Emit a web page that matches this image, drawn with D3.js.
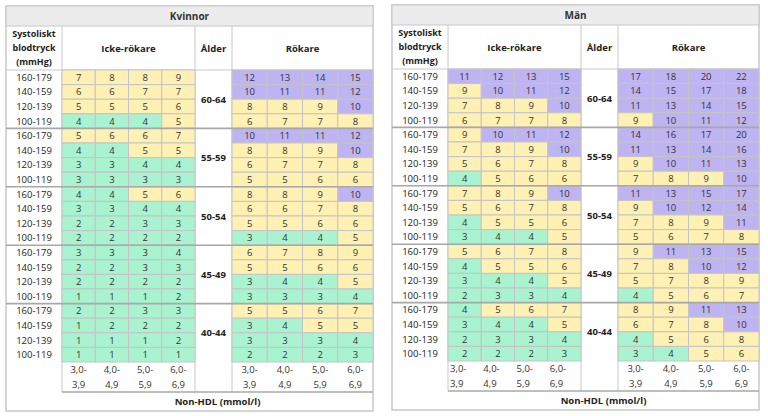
<!DOCTYPE html>
<html><head><meta charset="utf-8">
<script src="https://cdn.jsdelivr.net/npm/d3@7"></script>
<style>body{margin:0;background:#fff}text{font-family:"Open Sans","Liberation Sans",sans-serif}</style>
</head><body><svg id="c" width="768" height="416"></svg>
<script>
const ages = ["60-64","55-59","50-54","45-49","40-44"];
const bpRows = ["160-179","140-159","120-139","100-119"];
const nonHdlTop = ["3,0-","4,0-","5,0-","6,0-"];
const nonHdlBot = ["3,9","4,9","5,9","6,9"];
const panelTitles = ["Kvinnor","Män"];
const womenNonSmoker = [
 [[7,8,8,9],[6,6,7,7],[5,5,5,6],[4,4,4,5]],
 [[5,6,6,7],[4,4,5,5],[3,3,4,4],[3,3,3,3]],
 [[4,4,5,6],[3,3,4,4],[2,2,3,3],[2,2,2,2]],
 [[3,3,3,4],[2,2,3,3],[2,2,2,2],[1,1,1,2]],
 [[2,2,3,3],[1,2,2,2],[1,1,1,2],[1,1,1,1]]];
const womenSmoker = [
 [[12,13,14,15],[10,11,11,12],[8,8,9,10],[6,7,7,8]],
 [[10,11,11,12],[8,8,9,10],[6,7,7,8],[5,5,6,6]],
 [[8,8,9,10],[6,6,7,8],[5,5,6,6],[3,4,4,5]],
 [[6,7,8,9],[5,5,6,6],[3,4,4,5],[3,3,3,4]],
 [[5,5,6,7],[3,4,5,5],[3,3,3,4],[2,2,2,3]]];
const menNonSmoker = [
 [[11,12,13,15],[9,10,11,12],[7,8,9,10],[6,7,7,8]],
 [[9,10,11,12],[7,8,9,10],[5,6,7,8],[4,5,6,6]],
 [[7,8,9,10],[5,6,7,8],[4,5,5,6],[3,4,4,5]],
 [[5,6,7,8],[4,5,5,6],[3,4,4,5],[2,3,3,4]],
 [[4,5,6,7],[3,4,4,5],[2,3,3,4],[2,2,2,3]]];
const menSmoker = [
 [[17,18,20,22],[14,15,17,18],[11,13,14,15],[9,10,11,12]],
 [[14,16,17,20],[11,13,14,16],[9,10,11,13],[7,8,9,10]],
 [[11,13,15,17],[9,10,12,14],[7,8,9,11],[5,6,7,8]],
 [[9,11,13,15],[7,8,10,12],[5,7,8,9],[4,5,6,7]],
 [[8,9,11,13],[6,7,8,10],[4,5,6,8],[3,4,5,6]]];

const color = d3.scaleThreshold().domain([5,10]).range(["#aaf3d0","#fff0b4","#bfb4f2"]);
const svg = d3.select("#c");

function panel(x0, y0, title, nonS, smk, leftTicks){
  const g = svg.append("g").attr("transform",`translate(${x0},${y0})`);
  const W = 367, top=20, dataTop=64, rowH=14.6, dataH=rowH*20, tickH=30, H=405;
  const labW=56, nsX=labW, nsW=133, ageW=37, smX=nsX+nsW+ageW, smW=W-smX;
  g.append("rect").attr("width",W).attr("height",H).attr("fill","#fff").attr("stroke","#c8c8c8").attr("stroke-width",1.5);
  g.append("rect").attr("width",W).attr("height",top).attr("fill","#ececec").attr("stroke","#c8c8c8");
  g.append("text").attr("x",W/2).attr("y",14).attr("text-anchor","middle").attr("font-size",10).attr("font-weight","bold").attr("fill","#333").text(title);
  const rowScale = d3.scaleBand().domain(d3.range(20)).range([dataTop,dataTop+dataH]);
  const colNs = d3.scaleBand().domain(d3.range(4)).range([nsX,nsX+nsW]);
  const colSm = d3.scaleBand().domain(d3.range(4)).range([smX,smX+smW]);
  ["Systoliskt","blodtryck","(mmHg)"].forEach((t,i)=>g.append("text").attr("x",labW/2).attr("y",top+11+i*14).attr("text-anchor","middle").attr("font-size",9).attr("font-weight","bold").attr("fill","#222").text(t));
  [[nsX+nsW/2,"Icke-rökare"],[nsX+nsW+ageW/2,"Ålder"],[smX+smW/2,"Rökare"]].forEach(([x,t])=>
    g.append("text").attr("x",x).attr("y",(top+dataTop)/2+4).attr("text-anchor","middle").attr("font-size",9.5).attr("font-weight","bold").attr("fill","#222").text(t));
  g.append("line").attr("x1",0).attr("x2",W).attr("y1",dataTop).attr("y2",dataTop).attr("stroke","#c8c8c8");
  [nsX,nsX+nsW,smX].forEach(x=>g.append("line").attr("x1",x).attr("x2",x).attr("y1",top).attr("y2",dataTop+dataH+tickH).attr("stroke","#c8c8c8"));
  const cells=[];
  ages.forEach((a,ai)=>bpRows.forEach((bp,ri)=>{
    for(let c=0;c<4;c++){ cells.push({r:ai*4+ri,c,v:nonS[ai][ri][c],s:0}); cells.push({r:ai*4+ri,c,v:smk[ai][ri][c],s:1}); }
  }));
  const cg = g.selectAll("g.cell").data(cells).join("g");
  cg.append("rect").attr("x",d=>(d.s?colSm:colNs)(d.c)).attr("y",d=>rowScale(d.r))
    .attr("width",d=>(d.s?colSm:colNs).bandwidth()).attr("height",rowScale.bandwidth())
    .attr("fill",d=>color(d.v)).attr("stroke","#c4c4c4").attr("stroke-width",1);
  cg.append("text").attr("x",d=>(d.s?colSm:colNs)(d.c)+(d.s?colSm:colNs).bandwidth()/2).attr("y",d=>rowScale(d.r)+rowScale.bandwidth()/2+3.5)
    .attr("text-anchor","middle").attr("font-size",9.5).attr("fill","#333").text(d=>d.v);
  d3.range(20).forEach(r=>g.append("text").attr("x",labW/2).attr("y",rowScale(r)+rowScale.bandwidth()/2+3.5).attr("text-anchor","middle").attr("font-size",9.5).attr("fill","#222").text(bpRows[r%4]));
  ages.forEach((a,ai)=>{
    const y=rowScale(ai*4);
    g.append("text").attr("x",nsX+nsW+ageW/2).attr("y",y+rowScale.bandwidth()*2+3.5).attr("text-anchor","middle").attr("font-size",9.5).attr("font-weight","bold").attr("fill","#222").text(a);
    if(ai>0) g.append("line").attr("x1",0).attr("x2",W).attr("y1",y).attr("y2",y).attr("stroke","#a8a8a8").attr("stroke-width",1.6);
  });
  const yb=dataTop+dataH;
  g.append("line").attr("x1",nsX).attr("x2",W).attr("y1",yb+tickH).attr("y2",yb+tickH).attr("stroke","#a8a8a8").attr("stroke-width",1.6);
  [[colNs,!leftTicks],[colSm,false]].forEach(([sc,la])=>d3.range(4).forEach(c=>{
    const x = la? sc(c)+2 : sc(c)+sc.bandwidth()/2, anc = la?"start":"middle";
    g.append("text").attr("x",x).attr("y",yb+11).attr("text-anchor",anc).attr("font-size",9.5).attr("fill","#333").text(nonHdlTop[c]);
    g.append("text").attr("x",x).attr("y",yb+26).attr("text-anchor",anc).attr("font-size",9.5).attr("fill","#333").text(nonHdlBot[c]);
  }));
  g.append("text").attr("x",nsX+(W-nsX)/2).attr("y",yb+tickH+13).attr("text-anchor","middle").attr("font-size",9.5).attr("font-weight","bold").attr("fill","#222").text("Non-HDL (mmol/l)");
}
panel(6,6,panelTitles[0],womenNonSmoker,womenSmoker,true);
panel(392,5,panelTitles[1],menNonSmoker,menSmoker,false);
</script></body></html>
